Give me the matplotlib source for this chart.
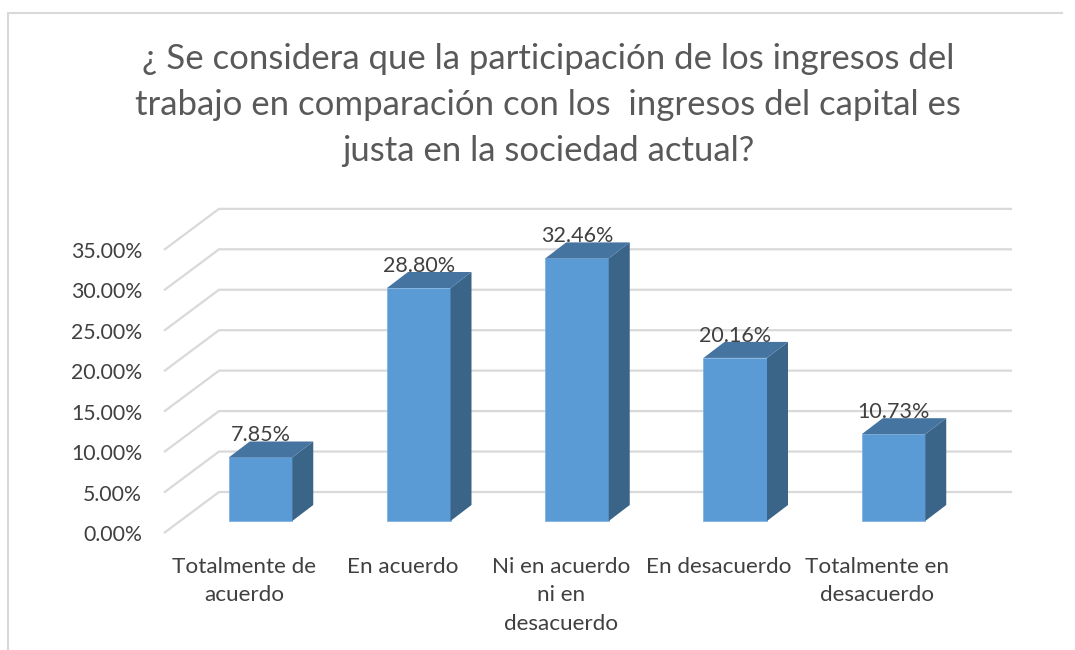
import matplotlib
matplotlib.use("Agg")
import matplotlib.pyplot as plt
from matplotlib.patches import Polygon

categories = ["Totalmente de\nacuerdo", "En acuerdo", "Ni en acuerdo\nni en\ndesacuerdo",
              "En desacuerdo", "Totalmente en\ndesacuerdo"]
values = [7.85, 28.80, 32.46, 20.16, 10.73]
ticks = [0, 5, 10, 15, 20, 25, 30, 35]
title = ("¿ Se considera que la participación de los ingresos del\n"
         "trabajo en comparación con los  ingresos del capital es\n"
         "justa en la sociedad actual?")

FRONT = "#5b9bd5"
TOP = "#4674a0"
SIDE = "#3a6488"
GRID = "#d9d9d9"
TXT = "#404040"

plt.rcParams['font.family'] = ['Lato', 'DejaVu Sans']

fig = plt.figure(figsize=(10.75, 6.5), dpi=100)

# pixels per unit on each axis, the rest of the depth effect is built from these
px_x = 158.25
px_y = 8.09
ax = fig.add_axes([164 / 1075, (650 - 533) / 650, (1012 - 164) / 1075, (533 - 209) / 650])
ax.set_xlim((164 - 260.5) / px_x, (1012 - 260.5) / px_x)
ax.set_ylim(-12 / px_y, (521 - 209) / px_y)
ax.axis("off")

dep_x = 21 / px_x   # bar depth
dep_y = 16 / px_y
left = ax.get_xlim()[0]
right = ax.get_xlim()[1]
floor_x = 55 / px_x   # wall depth
floor_y = 41 / px_y
base = ax.get_ylim()[0]

for t in ticks:
    y0 = base + t
    ax.plot([left, left + floor_x, right], [y0, y0 + floor_y, y0 + floor_y],
            color=GRID, lw=1.6, solid_capstyle="butt", solid_joinstyle="miter",
            zorder=1, clip_on=False)
    ax.text(left - 22 / px_x, y0 - 0.25, f"{t:.2f}%", ha="right", va="center",
            fontsize=15.3, color=TXT, clip_on=False)

w = 63.5 / px_x
for i, v in enumerate(values):
    x0 = i - w / 2
    x1 = i + w / 2
    ax.add_patch(Polygon([(x0, 0), (x1, 0), (x1, v), (x0, v)], fc=FRONT, ec="#7fb2e0", lw=0.6, zorder=3))
    ax.add_patch(Polygon([(x1, 0), (x1 + dep_x, dep_y), (x1 + dep_x, v + dep_y), (x1, v)],
                         fc=SIDE, ec="none", zorder=3))
    ax.add_patch(Polygon([(x0, v), (x1, v), (x1 + dep_x, v + dep_y), (x0 + dep_x, v + dep_y)],
                         fc=TOP, ec="none", zorder=3))
    ax.text(i, v + dep_y + 0.75, f"{v:.2f}%", ha="center", va="center", fontsize=15.5,
            color=TXT, zorder=4, clip_on=False)
    ax.text(i - 16 / px_x, -4.4, categories[i], ha="center", va="top", fontsize=16.2,
            color=TXT, linespacing=1.54, clip_on=False)

fig.text(548 / 1075, 1 - 105 / 650, title, ha="center", va="center", fontsize=25,
         color="#595959", linespacing=1.52)

# chart border, the picture cuts it off on the right and at the bottom
fig.add_artist(plt.Line2D([8 / 1075, 8 / 1075, 1062 / 1075], [0, 1 - 13 / 650, 1 - 13 / 650],
                          color=GRID, lw=1.5))

fig.savefig("out.png", dpi=100)
